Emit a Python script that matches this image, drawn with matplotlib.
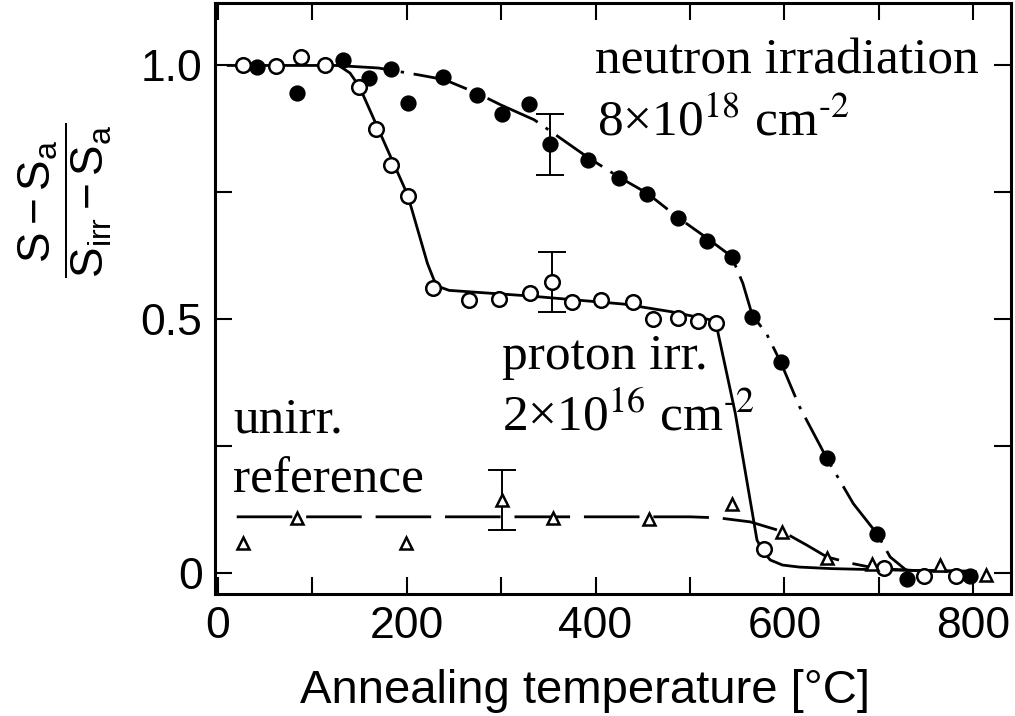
import matplotlib
matplotlib.use("Agg")
import matplotlib.pyplot as plt
from matplotlib.ticker import FixedLocator

plt.rcParams['font.family'] = ['Liberation Sans', 'DejaVu Sans']
plt.rcParams['mathtext.fontset'] = 'custom'
plt.rcParams['mathtext.rm'] = 'Liberation Sans'
plt.rcParams['mathtext.it'] = 'Liberation Sans'
plt.rcParams['mathtext.bf'] = 'Liberation Sans:bold'

# ---------------- data ----------------
# proton irradiated (open circles)
proton_T = [27, 62, 88, 113, 150, 167, 183, 201, 228, 266, 298, 331, 354, 375,
            406, 440, 461, 487, 509, 528, 578, 705, 748, 782]
proton_S = [1.001, 0.998, 1.016, 1.001, 0.957, 0.874, 0.803, 0.743, 0.561, 0.539,
            0.541, 0.551, 0.574, 0.535, 0.539, 0.535, 0.500, 0.502, 0.497, 0.492,
            0.047, 0.011, -0.006, -0.005]
proton_err_T = [354]
proton_err_S = [0.574]
proton_err = [0.059]

# neutron irradiated (filled circles)
neutron_T = [42, 84, 133, 160, 183, 201, 238, 274, 301, 330, 352, 392, 425, 455,
             487, 518, 544, 566, 596, 645, 698, 730, 797]
neutron_S = [0.996, 0.945, 1.011, 0.975, 0.993, 0.926, 0.978, 0.942, 0.904, 0.924,
             0.845, 0.814, 0.778, 0.747, 0.699, 0.655, 0.622, 0.505, 0.416, 0.226,
             0.078, -0.012, -0.005]
neutron_err_T = [352]
neutron_err_S = [0.845]
neutron_err = [0.060]

# unirradiated reference (open triangles)
ref_T = [27, 84, 199, 301, 355, 457, 545, 598, 645, 693, 765, 813]
ref_S = [0.059, 0.109, 0.060, 0.145, 0.109, 0.107, 0.137, 0.082, 0.030, 0.018,
         0.016, -0.003]
ref_err_T = [301]
ref_err_S = [0.145]
ref_err = [0.059]

# guide-line knots
proton_line_T = [11, 128, 140, 150, 201, 222, 229, 236, 245, 330, 430, 480, 527,
                 548, 571, 578, 585, 598, 616, 650, 694, 750, 800]
proton_line_S = [1.0, 1.0, 0.985, 0.958, 0.745, 0.61, 0.577, 0.563, 0.557, 0.546,
                 0.530, 0.515, 0.497, 0.315, 0.065, 0.042, 0.026, 0.016, 0.012,
                 0.009, 0.007, 0.005, 0.004]
neutron_line_T = [125, 170, 214, 240, 275, 300, 335, 355, 391, 424, 455, 487,
                  518, 544, 556, 566, 581, 596, 616, 645, 673, 698, 712, 729, 760, 800]
neutron_line_S = [1.0, 0.995, 0.981, 0.972, 0.945, 0.922, 0.893, 0.867, 0.820,
                  0.781, 0.748, 0.701, 0.660, 0.624, 0.571, 0.508, 0.472, 0.416,
                  0.328, 0.226, 0.137, 0.078, 0.032, 0.006, 0.004, 0.003]
ref_line_T = [20, 500, 530, 564, 598, 624, 645, 672, 693, 720, 815]
ref_line_S = [0.111, 0.111, 0.109, 0.101, 0.082, 0.055, 0.032, 0.019, 0.011,
              0.007, 0.002]

x_ticks = [0, 100, 200, 300, 400, 500, 600, 700, 800]
x_ticklabels = ['0', '', '200', '', '400', '', '600', '', '800']
y_ticks = [0, 0.25, 0.5, 0.75, 1.0]
y_ticklabels = ['0', '', '0.5', '', '1.0']

# ---------------- figure ----------------
W, H = 1015, 716
fig = plt.figure(figsize=(W / 100, H / 100), dpi=100)
ax = fig.add_axes([215 / W, 1 - 594 / H, (1011 - 215) / W, (594 - 3) / H])
ax.set_xlim(-3, 840)
ax.set_ylim(-0.041, 1.123)

# guide lines
ax.plot(proton_line_T, proton_line_S, color='black', lw=2.0, zorder=2,
        solid_joinstyle='round')
ax.plot(neutron_line_T, neutron_line_S, color='black', lw=2.0, zorder=2,
        linestyle=(0, (20, 3.5, 1.2, 3.5)))
ax.plot(ref_line_T, ref_line_S, color='black', lw=2.0, zorder=2,
        linestyle=(0, (20, 5)))

# error bars
ek = dict(fmt='none', ecolor='black', elinewidth=1.4, capsize=10, capthick=1.4, zorder=3)
ax.errorbar(proton_err_T, proton_err_S, yerr=proton_err, **ek)
ax.errorbar(neutron_err_T, neutron_err_S, yerr=neutron_err, **ek)
ax.errorbar(ref_err_T, ref_err_S, yerr=ref_err, **ek)

# markers
ax.plot(neutron_T, neutron_S, 'o', ms=10.5, mfc='black', mec='black', mew=1.2,
        linestyle='none', zorder=4)
ax.plot(proton_T, proton_S, 'o', ms=10.5, mfc='white', mec='black', mew=1.8,
        linestyle='none', zorder=5)
ax.plot(ref_T, ref_S, '^', ms=8.5, mfc='white', mec='black', mew=1.8,
        linestyle='none', zorder=5)

# axes styling
for s in ax.spines.values():
    s.set_linewidth(2.2)
ax.xaxis.set_major_locator(FixedLocator(x_ticks))
ax.set_xticklabels(x_ticklabels)
ax.yaxis.set_major_locator(FixedLocator(y_ticks))
ax.set_yticklabels(y_ticklabels)
ax.tick_params(axis='both', which='major', direction='in', length=12, width=1.5,
               top=True, right=True, labelsize=32)
ax.tick_params(axis='x', pad=9)
ax.tick_params(axis='y', pad=9)

# annotations (Times-like)
serif = ['Liberation Serif', 'DejaVu Serif']
tk = dict(fontsize=37, family=serif, math_fontfamily='stix', va='baseline', ha='left')
ax.text(399.5, 0.985, 'neutron irradiation', **tk)
ax.text(401.5, 0.863, '8×10$^{18}$ cm$^{\\text{-}2}$', **tk)
ax.text(300.7, 0.402, 'proton irr.', **tk)
ax.text(300.7, 0.282, '2×10$^{16}$ cm$^{\\text{-}2}$', **tk)
ax.text(16.4, 0.278, 'unirr.', **tk)
ax.text(16.4, 0.158, 'reference', **tk)

# axis labels
fig.text(585 / W, 1 - 703 / H, 'Annealing temperature [°C]', fontsize=34,
         ha='center', va='baseline')
fig.text(65 / W, 1 - 200 / H,
         r'$\dfrac{\mathrm{S-S_a}}{\mathrm{S_{irr}-S_a}}$',
         fontsize=33, rotation=90, ha='center', va='center', math_fontfamily='custom')

fig.savefig('out.png', dpi=100)
